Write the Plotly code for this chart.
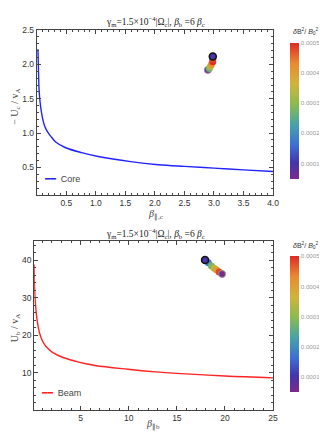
import plotly.graph_objects as go

# ---------------- data ----------------
core_beta = [0.02, 0.03, 0.04, 0.06, 0.095, 0.13, 0.18, 0.25, 0.32, 0.48, 0.76,
             1.04, 1.59, 2.06, 2.5, 3.0, 3.5, 4.0]
core_u = [2.22, 1.88, 1.62, 1.42, 1.23, 1.11, 1.02, 0.94, 0.87, 0.79, 0.715,
          0.66, 0.585, 0.54, 0.515, 0.49, 0.465, 0.44]

beam_beta = [0.17, 0.2, 0.28, 0.38, 0.5, 0.71, 0.95, 1.22, 1.6, 2.07, 3.1, 4.8,
             6.5, 9.9, 12.8, 15.0, 20.0, 25.0]
beam_u = [38.8, 33.0, 29.0, 26.0, 23.5, 20.7, 18.9, 17.6, 16.4, 15.4, 14.1, 12.8,
          11.9, 10.9, 10.2, 9.8, 9.1, 8.6]

# trajectory points (last entry = start point, drawn on top)
core_traj_beta = [2.895, 2.92, 2.94, 2.957, 2.98, 2.98, 2.98]
core_traj_u = [1.92, 1.94, 1.97, 2.0, 2.04, 2.075, 2.115]
core_traj_db = [0.00005, 0.00027, 0.00034, 0.00042, 0.0005, 0.00048, 0.0001]

beam_traj_beta = [18.27, 18.6, 18.88, 19.11, 19.39, 19.7, 17.93]
beam_traj_u = [39.3, 38.4, 37.8, 37.4, 36.8, 36.3, 40.0]
beam_traj_db = [0.00018, 0.00028, 0.00034, 0.0004, 0.00048, 0.00005, 0.0001]

cbar_vals = [0.0001, 0.0002, 0.0003, 0.0004, 0.0005]
cbar_text = ["0.0001", "0.0002", "0.0003", "0.0004", "0.0005"]

top_xticks = [0.5, 1.0, 1.5, 2.0, 2.5, 3.0, 3.5, 4.0]
top_yticks = [0.5, 1.0, 1.5, 2.0, 2.5]
bot_xticks = [5, 10, 15, 20, 25]
bot_yticks = [10, 20, 30, 40]

series_names = ["Core", "Beam"]
series_colors = ["#2222ff", "#ff2222"]

# ---------------- styling ----------------
W, H = 327, 437
rainbow = [
    [0.0, "#7a2a8e"], [0.12, "#4535ab"], [0.25, "#3b6fd3"], [0.4, "#47a3a8"],
    [0.55, "#8cbb4e"], [0.7, "#d0b43b"], [0.85, "#ea8a2f"], [1.0, "#de2b25"],
]
frame = "#444444"
tickfont = dict(family="Liberation Sans, Arial", size=8.5, color="#333333")
serif = "Liberation Serif, Times New Roman"

fig = go.Figure()

fig.add_trace(go.Scatter(
    x=core_beta, y=core_u, mode="lines", name=series_names[0], showlegend=False,
    line=dict(color=series_colors[0], width=1.4, shape="spline"),
    xaxis="x", yaxis="y"))

fig.add_trace(go.Scatter(
    x=beam_beta, y=beam_u, mode="lines", name=series_names[1], showlegend=False,
    line=dict(color=series_colors[1], width=1.4, shape="spline"),
    xaxis="x2", yaxis="y2"))

# marker outlines: start = black ring, end = gray ring
core_lc = ["rgba(150,150,150,0.9)", "rgba(0,0,0,0)", "rgba(0,0,0,0)", "rgba(0,0,0,0)",
           "rgba(0,0,0,0)", "rgba(0,0,0,0)", "#111111"]
core_lw = [1.0, 0, 0, 0, 0, 0, 1.5]
beam_lc = ["rgba(0,0,0,0)"] * 5 + ["rgba(150,150,150,0.9)", "#111111"]
beam_lw = [0, 0, 0, 0, 0, 1.0, 1.5]


def cbar(ytop):
    return dict(
        x=287 / W, xanchor="left", xpad=0,
        y=1 - ytop / H, yanchor="top", ypad=0,
        len=136, lenmode="pixels", thickness=9,
        tickvals=cbar_vals, ticktext=cbar_text,
        tickfont=dict(family="Liberation Sans, Arial", size=6.2, color="#999999"),
        ticks="", outlinewidth=0)


fig.add_trace(go.Scatter(
    x=core_traj_beta, y=core_traj_u, mode="markers", showlegend=False,
    xaxis="x", yaxis="y",
    marker=dict(size=7, color=core_traj_db, colorscale=rainbow,
                cmin=0.00005, cmax=0.0005,
                line=dict(color=core_lc, width=core_lw),
                colorbar=cbar(30), showscale=True)))

fig.add_trace(go.Scatter(
    x=beam_traj_beta, y=beam_traj_u, mode="markers", showlegend=False,
    xaxis="x2", yaxis="y2",
    marker=dict(size=7, color=beam_traj_db, colorscale=rainbow,
                cmin=0.00005, cmax=0.0005,
                line=dict(color=beam_lc, width=beam_lw),
                colorbar=cbar(246), showscale=True)))


def axis(domain, rng, ticks, fmt, minor, anchor):
    return dict(
        domain=domain, range=rng, anchor=anchor,
        tickmode="array", tickvals=ticks, tickformat=fmt,
        ticks="inside", ticklen=4, tickwidth=0.8, tickcolor=frame,
        minor=dict(dtick=minor, tick0=0, ticks="inside", ticklen=2,
                   tickwidth=0.6, tickcolor=frame),
        showline=True, linecolor=frame, linewidth=1, mirror="allticks",
        showgrid=False, zeroline=False, tickfont=tickfont)


fig.update_layout(
    width=W, height=H, autosize=False,
    margin=dict(l=0, r=0, t=0, b=0),
    paper_bgcolor="white", plot_bgcolor="white",
    xaxis=axis([29.3 / W, 270 / W], [0, 4], top_xticks, ".1f", 0.1, "y"),
    yaxis=axis([1 - 184 / H, 1 - 17.3 / H], [0.1, 2.5], top_yticks, ".1f", 0.1, "x"),
    xaxis2=axis([26.7 / W, 270 / W], [0.17, 25], bot_xticks, "d", 1, "y2"),
    yaxis2=axis([1 - 401.7 / H, 1 - 231 / H], [0, 45], bot_yticks, "d", 2, "x2"),
)

title_txt = ("γ<sub>m</sub>=1.5×10<sup>−4</sup>|Ω<sub>c</sub>|, "
             "<i>β</i><sub>b</sub> =6 <i>β</i><sub>c</sub>")
cb_title = "<i>δ</i>B<sup>2</sup>/ <i>B</i><sub>0</sub><sup>2</sup>"
legfont = "Liberation Sans, DejaVu Sans, Arial"


def legend_text(i):
    return (f"<span style='color:{series_colors[i]}'>━━</span>"
            f"\u00a0\u00a0<span style='color:#444444'>{series_names[i]}</span>")


ann = [
    dict(text=title_txt, x=150 / W, y=1.0, yanchor="top",
         font=dict(family=serif, size=9.5, color="#222")),
    dict(text=title_txt, x=150 / W, y=1 - 214 / H, yanchor="top",
         font=dict(family=serif, size=9.5, color="#222")),
    dict(text="<i>β</i><sub>∥,c</sub>", x=150 / W, y=1 - 204 / H,
         font=dict(family=serif, size=10, color="#444")),
    dict(text="<i>β</i><sub>∥b</sub>", x=148 / W, y=1 - 416 / H,
         font=dict(family=serif, size=10, color="#444")),
    dict(text="− U<sub>c</sub> / v<sub>A</sub>", x=8 / W, y=1 - 95 / H, textangle=-90,
         font=dict(family=serif, size=10, color="#444")),
    dict(text="U<sub>b</sub> / v<sub>A</sub>", x=7 / W, y=1 - 318 / H, textangle=-90,
         font=dict(family=serif, size=10, color="#444")),
    dict(text=cb_title, x=304 / W, y=1 - 19 / H,
         font=dict(family="Liberation Sans, Arial", size=7, color="#333")),
    dict(text=cb_title, x=304 / W, y=1 - 235 / H,
         font=dict(family="Liberation Sans, Arial", size=7, color="#333")),
    dict(text=legend_text(0), x=35 / W, y=1 - 168 / H, xanchor="left",
         font=dict(family=legfont, size=9, color="#444")),
    dict(text=legend_text(1), x=32 / W, y=1 - 384 / H, xanchor="left",
         font=dict(family=legfont, size=9, color="#444")),
]
for a in ann:
    a.setdefault("yanchor", "middle")
    a.setdefault("xanchor", "center")
    a.update(xref="paper", yref="paper", showarrow=False)
fig.update_layout(annotations=ann)

fig.write_html("out.html")
